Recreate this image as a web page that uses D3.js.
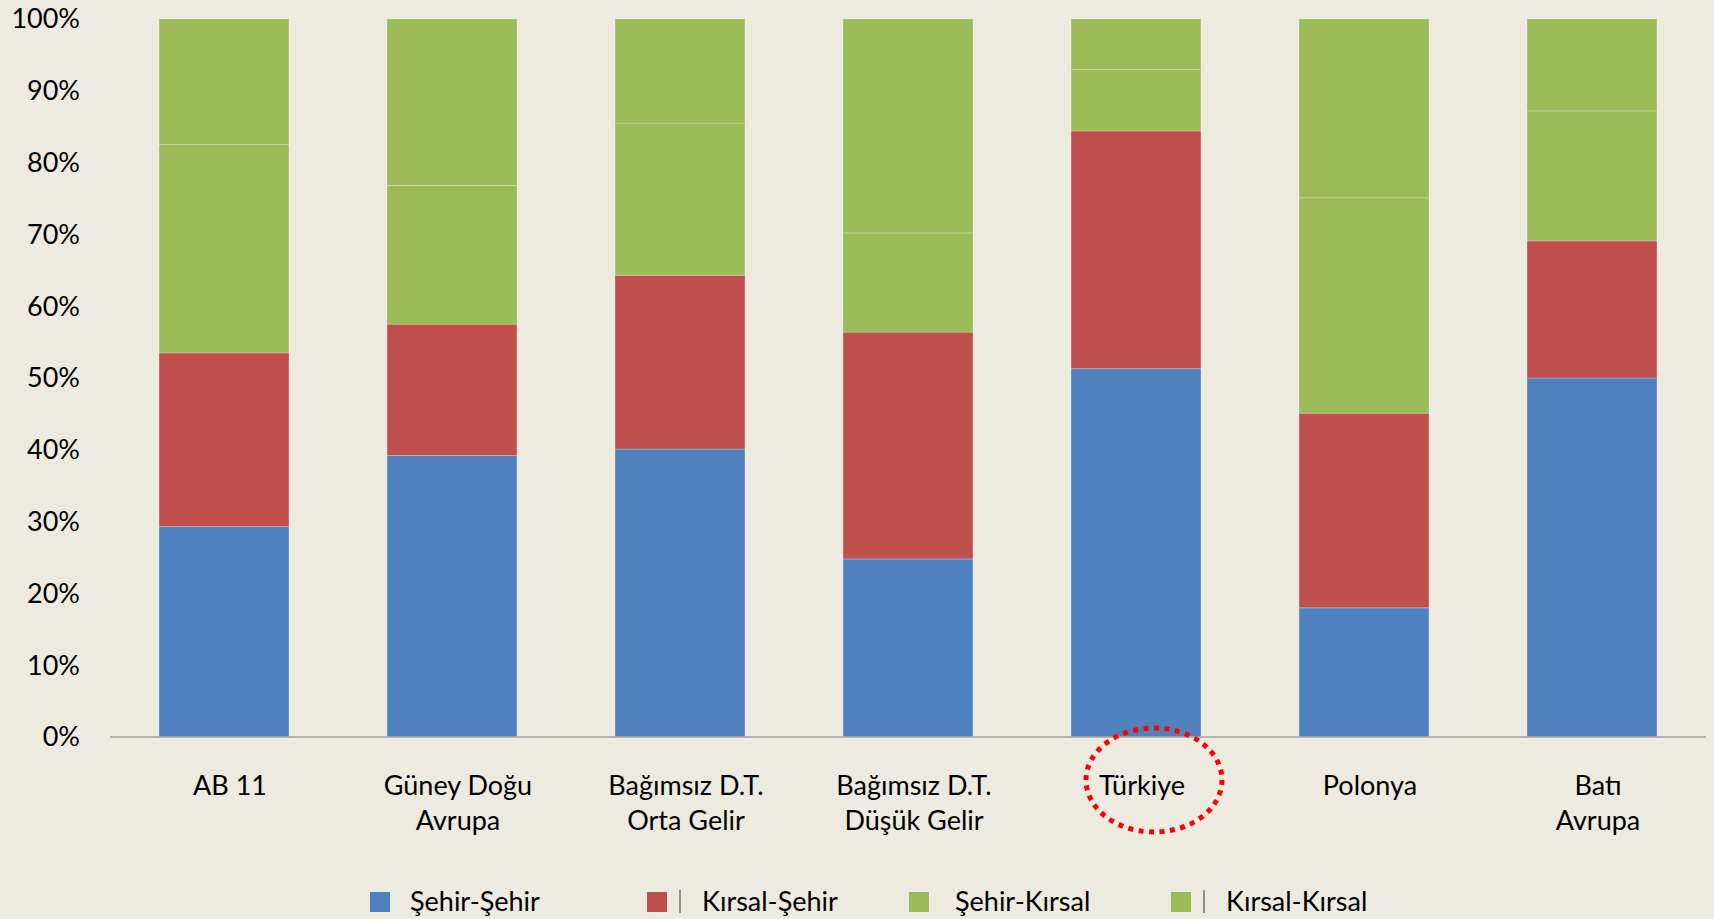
<!DOCTYPE html>
<html>
<head>
<meta charset="utf-8">
<script src="https://cdn.jsdelivr.net/npm/d3@7"></script>
<style>
  html, body { margin: 0; padding: 0; background: #EDEBE0; }
  svg text { font-family: Lato, "Open Sans", sans-serif; fill: #000; }
</style>
</head>
<body>
<div id="chart"></div>
<script>
// categories (label lines)
var categories = ["AB 11", "Güney Doğu Avrupa", "Bağımsız D.T. Orta Gelir", "Bağımsız D.T. Düşük Gelir", "Türkiye", "Polonya", "Batı Avrupa"];
var labelLines = [["AB 11"], ["Güney Doğu", "Avrupa"], ["Bağımsız D.T.", "Orta Gelir"], ["Bağımsız D.T.", "Düşük Gelir"], ["Türkiye"], ["Polonya"], ["Batı", "Avrupa"]];

var seriesNames = ["Şehir-Şehir", "Kırsal-Şehir", "Şehir-Kırsal", "Kırsal-Kırsal"];
var sehirSehir   = [29.3, 39.2, 40.1, 24.8, 51.3, 18.0, 50.0];
var kirsalSehir  = [24.2, 18.3, 24.2, 31.6, 33.1, 27.1, 19.1];
var sehirKirsal  = [29.0, 19.3, 21.2, 13.8, 8.6, 30.0, 18.1];
var kirsalKirsal = [17.5, 23.2, 14.5, 29.8, 7.0, 24.9, 12.8];
var colors = ["#4F81BD", "#C0504D", "#9BBB59", "#9BBB59"];

var yTicks = [0, 10, 20, 30, 40, 50, 60, 70, 80, 90, 100];

var W = 1714, H = 919;
var margin = {top: 19, left: 110, right: 8, bottom: 182};

var svg = d3.select("#chart").append("svg")
    .attr("width", W).attr("height", H);

svg.append("rect").attr("width", W).attr("height", H).attr("fill", "#EDEBE0");

var x = d3.scaleBand()
    .domain(categories)
    .range([margin.left, W - margin.right])
    .paddingInner(0.43)
    .paddingOuter(0.215);

var y = d3.scaleLinear()
    .domain([0, 100])
    .range([H - margin.bottom, margin.top]);

// build rows for stacking
var rows = categories.map(function(c, i) {
    return {cat: c, s0: sehirSehir[i], s1: kirsalSehir[i], s2: sehirKirsal[i], s3: kirsalKirsal[i]};
});
var stack = d3.stack().keys(["s0", "s1", "s2", "s3"]);
var series = stack(rows);

series.forEach(function(s, si) {
    svg.append("g")
      .selectAll("rect")
      .data(s)
      .enter().append("rect")
        .attr("x", function(d) { return x(d.data.cat); })
        .attr("y", function(d) { return y(d[1]); })
        .attr("width", x.bandwidth())
        .attr("height", function(d) { return y(d[0]) - y(d[1]); })
        .attr("fill", colors[si])
        .attr("stroke", "rgba(255,255,255,0.25)")
        .attr("stroke-width", 1);
});

// y axis labels
svg.append("g")
  .selectAll("text")
  .data(yTicks)
  .enter().append("text")
    .attr("x", 80)
    .attr("y", function(d) { return y(d); })
    .attr("dy", "0.35em")
    .attr("text-anchor", "end")
    .attr("font-size", 27)
    .text(function(d) { return d + "%"; });

// x axis line
svg.append("line")
    .attr("x1", x.range()[0]).attr("x2", x.range()[1])
    .attr("y1", y(0)).attr("y2", y(0))
    .attr("stroke", "#A0A0A0")
    .attr("stroke-width", 1.5);

// category labels
var labG = svg.append("g");
categories.forEach(function(c, i) {
    var t = labG.append("text")
        .attr("x", x(c) + x.bandwidth() / 2 + 6)
        .attr("y", y(0) + 58)
        .attr("text-anchor", "middle")
        .attr("font-size", 27);
    labelLines[i].forEach(function(line, li) {
        t.append("tspan")
          .attr("x", x(c) + x.bandwidth() / 2 + 6)
          .attr("dy", li === 0 ? 0 : 35)
          .text(line);
    });
});

// dotted ellipse around Türkiye
svg.append("ellipse")
    .attr("cx", x("Türkiye") + x.bandwidth() / 2 + 18)
    .attr("cy", y(0) + 43)
    .attr("rx", 68)
    .attr("ry", 52)
    .attr("fill", "none")
    .attr("stroke", "#FF0000")
    .attr("stroke-width", 5)
    .attr("stroke-dasharray", "5 5.5");

// legend
var legX = [370, 647, 909, 1171];
var legY = 902;
seriesNames.forEach(function(name, i) {
    var g = svg.append("g");
    g.append("rect")
      .attr("x", legX[i]).attr("y", legY - 10)
      .attr("width", 20).attr("height", 20)
      .attr("fill", colors[i]);
    var tx = legX[i] + 40;
    if (i === 1 || i === 3) {
        g.append("line")
          .attr("x1", legX[i] + 33).attr("x2", legX[i] + 33)
          .attr("y1", legY - 12).attr("y2", legY + 11)
          .attr("stroke", "#333").attr("stroke-width", 1);
        tx = legX[i] + 55;
    }
    if (i === 2) tx = legX[i] + 46;
    g.append("text")
      .attr("x", tx).attr("y", legY)
      .attr("dy", "0.35em")
      .attr("font-size", 27)
      .text(name);
});
</script>
</body>
</html>
